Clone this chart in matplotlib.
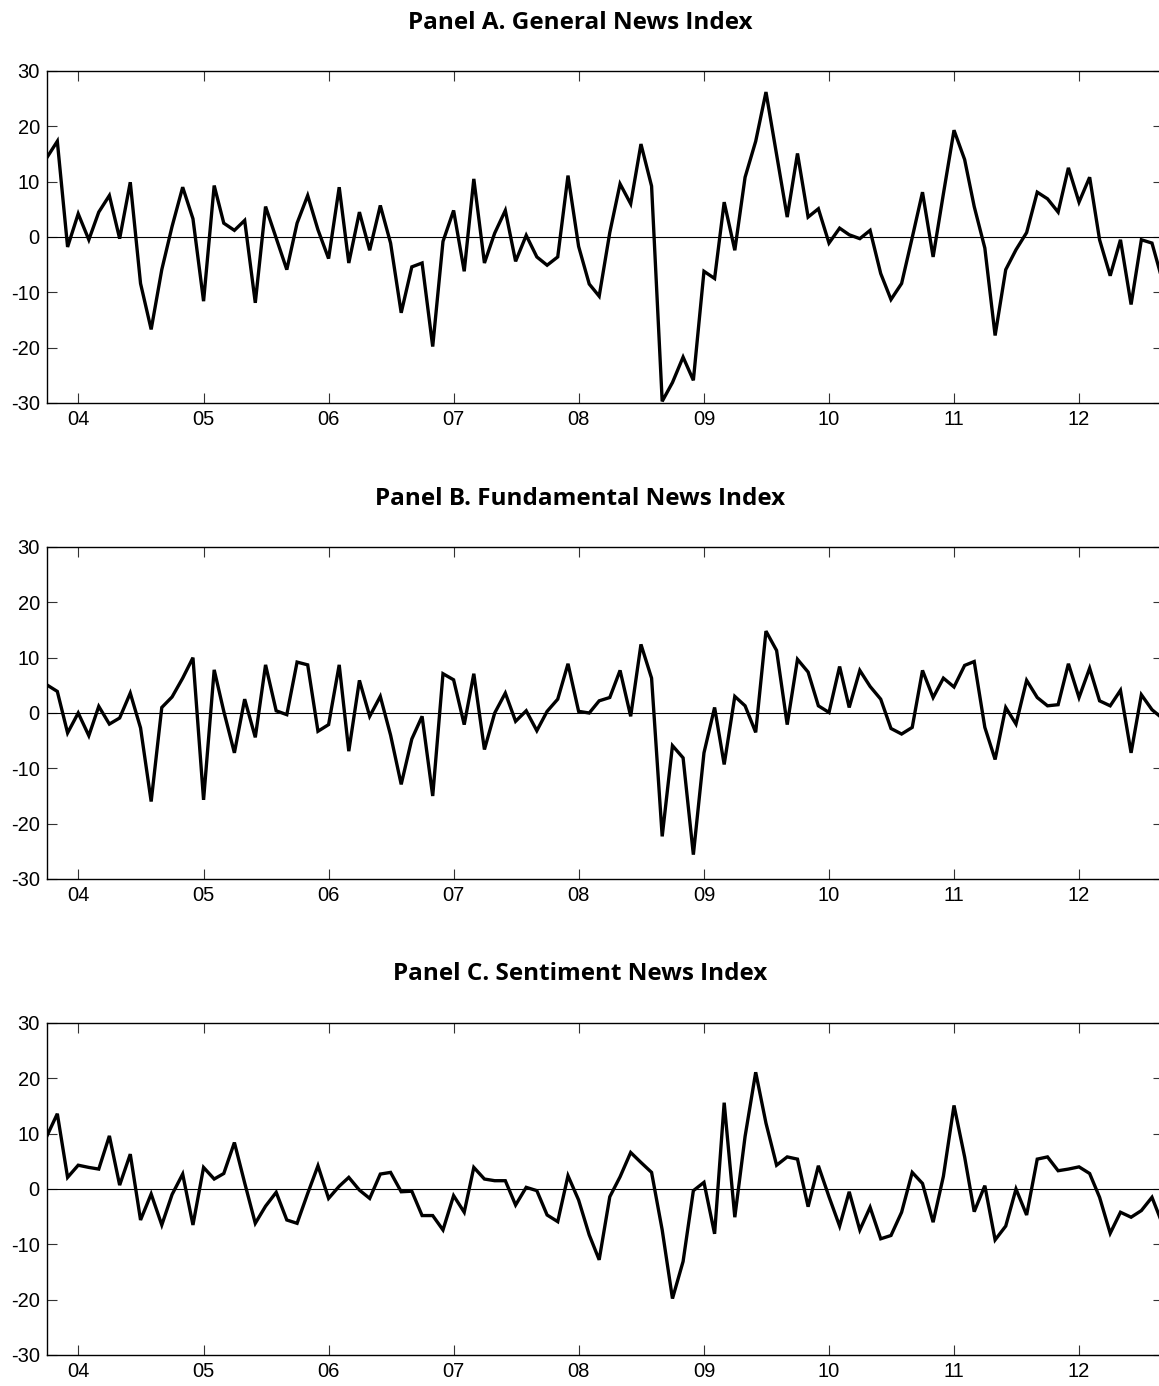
import numpy as np
import pandas as pd
import matplotlib
matplotlib.use("Agg")
import matplotlib.pyplot as plt
import matplotlib.dates as mdates

# monthly news indices, Oct 2003 - Sep 2012
months = pd.date_range("2003-10-01", "2012-09-01", freq="MS")

general = [14.3, 17.3, -1.8, 4.2, -0.5, 4.5, 7.5, -0.3, 9.9, -8.4,
           -16.7, -5.9, 1.9, 9.0, 3.3, -11.6, 9.3, 2.5, 1.2, 3.0,
           -11.9, 5.5, -0.2, -5.9, 2.5, 7.5, 1.3, -3.9, 9.0, -4.7,
           4.5, -2.4, 5.7, -1.1, -13.7, -5.4, -4.7, -19.8, -0.8, 4.8,
           -6.2, 10.5, -4.7, 0.7, 4.8, -4.4, 0.3, -3.6, -5.1, -3.6,
           11.1, -1.7, -8.5, -10.7, 0.8, 9.6, 6.0, 16.8, 9.2, -29.7,
           -26.3, -21.7, -25.9, -6.2, -7.5, 6.3, -2.4, 10.8, 17.3, 26.2,
           14.9, 3.6, 15.1, 3.6, 5.1, -1.1, 1.6, 0.4, -0.3, 1.2,
           -6.6, -11.3, -8.4, -0.1, 8.1, -3.6, 7.8, 19.3, 14.0, 5.5,
           -2.0, -17.8, -5.9, -2.3, 0.8, 8.1, 6.9, 4.5, 12.5, 6.3,
           10.8, -0.5, -7.0, -0.5, -12.2, -0.5, -1.1, -8.0]

fundamental = [5.1, 3.9, -3.6, 0.0, -4.1, 1.2, -2.0, -0.9, 3.6, -2.7,
               -16.0, 1.0, 2.9, 6.3, 10.0, -15.7, 7.8, 0.3, -7.2, 2.5,
               -4.4, 8.7, 0.4, -0.3, 9.2, 8.7, -3.3, -2.1, 8.7, -6.9,
               5.9, -0.6, 3.0, -4.0, -12.9, -4.7, -0.6, -15.0, 7.1, 6.0,
               -2.1, 7.1, -6.6, 0.0, 3.6, -1.5, 0.4, -3.2, 0.3, 2.5,
               8.9, 0.3, 0.0, 2.2, 2.8, 7.7, -0.6, 12.4, 6.3, -22.3,
               -5.9, -8.1, -25.6, -7.2, 1.0, -9.3, 3.0, 1.3, -3.5, 14.8,
               11.3, -2.1, 9.7, 7.4, 1.3, 0.1, 8.4, 1.0, 7.7, 4.8,
               2.5, -2.8, -3.8, -2.6, 7.7, 2.8, 6.3, 4.7, 8.6, 9.3,
               -2.6, -8.4, 1.0, -2.0, 5.9, 2.8, 1.3, 1.5, 8.9, 2.8,
               8.1, 2.2, 1.3, 4.1, -7.2, 3.3, 0.6, -1.0]

sentiment = [9.5, 13.6, 2.1, 4.3, 3.9, 3.6, 9.6, 0.7, 6.3, -5.6,
             -0.9, -6.5, -1.0, 2.7, -6.5, 3.9, 1.8, 2.8, 8.4, 1.1,
             -6.2, -3.1, -0.6, -5.6, -6.2, -0.8, 4.2, -1.7, 0.5, 2.1,
             -0.2, -1.7, 2.7, 3.0, -0.5, -0.4, -4.8, -4.8, -7.4, -1.2,
             -4.2, 3.9, 1.8, 1.5, 1.5, -2.9, 0.3, -0.3, -4.7, -5.9,
             2.4, -2.0, -8.3, -12.8, -1.4, 2.2, 6.6, 4.8, 3.0, -7.4,
             -19.8, -13.1, -0.3, 1.2, -8.1, 15.6, -5.1, 9.5, 21.1, 11.9,
             4.3, 5.8, 5.4, -3.2, 4.2, -1.4, -6.7, -0.5, -7.4, -3.3,
             -9.0, -8.4, -4.2, 3.0, 1.0, -6.0, 2.3, 15.1, 5.8, -4.1,
             0.6, -9.2, -6.7, 0.0, -4.7, 5.4, 5.8, 3.3, 3.6, 4.0,
             2.8, -1.5, -8.0, -4.2, -5.1, -3.9, -1.5, -6.4]

titles = ["Panel A. General News Index",
          "Panel B. Fundamental News Index",
          "Panel C. Sentiment News Index"]
yticks = [-30, -20, -10, 0, 10, 20, 30]

W, H = 1159, 1386
fig = plt.figure(figsize=(W / 100, H / 100), dpi=100)

# axes boxes in pixels: (top, bottom); right spine sits just past the edge
boxes = [(71, 403), (547, 879), (1023, 1355)]
title_y = [23, 499, 974]
left_px, right_px = 46.7, 1162.6

for series, title, (top, bot), ty in zip([general, fundamental, sentiment],
                                        titles, boxes, title_y):
    ax = fig.add_axes([left_px / W, 1 - bot / H,
                       (right_px - left_px) / W, (bot - top) / H])
    ax.plot(months, series, color="black", lw=2.4, solid_joinstyle="miter")
    ax.axhline(0, color="black", lw=0.8)
    ax.set_xlim(months[0], months[-1])
    ax.set_ylim(-30, 30)
    ax.set_yticks(yticks)
    ax.set_yticklabels([str(v) for v in yticks])
    ax.xaxis.set_major_locator(mdates.YearLocator())
    ax.xaxis.set_major_formatter(mdates.DateFormatter("%y"))
    ax.tick_params(direction="in", length=7.5, width=0.8, top=True,
                   right=True, labelsize=14.5, color="#333333", pad=5)
    for lab in ax.get_xticklabels() + ax.get_yticklabels():
        lab.set_family("Liberation Sans")
    for sp in ax.spines.values():
        sp.set_linewidth(1.0)
    fig.text(580 / W, 1 - ty / H, title, ha="center", va="center",
             fontsize=17.5, fontweight="bold", family="Open Sans")

fig.savefig("out.png", dpi=100)
